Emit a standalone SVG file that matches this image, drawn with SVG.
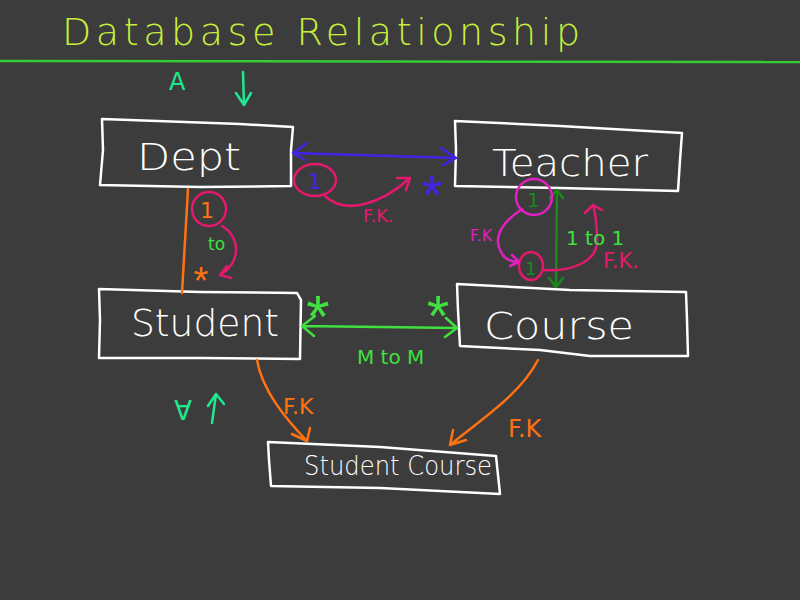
<svg xmlns="http://www.w3.org/2000/svg" width="800" height="600" viewBox="0 0 800 600">
<defs>
<style>
.bg{fill:#3c3c3c}
.box{fill:none;stroke:#ffffff;stroke-width:2.5;stroke-linejoin:round}
.lbl{fill:#ffffff;font-family:"DejaVu Sans","Liberation Sans",Arial,sans-serif;font-weight:200;font-size:38px}
.hand{font-family:"DejaVu Sans","Liberation Sans",Arial,sans-serif;font-weight:200}
.note{font-family:"DejaVu Sans","Liberation Sans",Arial,sans-serif;font-weight:400}
.star{font-family:"Liberation Sans",Arial,sans-serif;text-anchor:middle}
.ln{fill:none;stroke-width:2.5;stroke-linecap:round;stroke-linejoin:round}
</style>
</defs>
<rect class="bg" x="0" y="0" width="800" height="600"/>
<text x="62" y="45" class="hand" font-size="38" fill="#c8ee3c" textLength="518" lengthAdjust="spacing">Database Relationship</text>
<line x1="0" y1="61" x2="800" y2="62" stroke="#36cc36" stroke-width="2.5"/>
<g id="notes">
<text x="169" y="90" class="note" font-size="24" fill="#20e890">A</text>
<path class="ln" stroke="#20e890" d="M243,72 L244,105 M236,93 L244,105 L251,93"/>
<text x="183" y="420" class="note" font-size="26" fill="#20e890" text-anchor="middle" transform="rotate(180 183 410)">A</text>
<path class="ln" stroke="#20e890" d="M212,423 L216,394 M208,406 L216,394 L224,404"/>
</g>
<g id="dept">
<path class="box" d="M102,119 L240,124 L293,127 L291,150 L291,186 L200,187 L100,185 L103,150 Z"/>
<text x="137" y="170" class="lbl" textLength="104" lengthAdjust="spacingAndGlyphs">Dept</text>
</g>
<g id="teacher">
<path class="box" d="M455,121 L560,126 L682,133 L680,160 L678,191 L560,188 L455,186 L456,150 Z"/>
<text x="492" y="176" class="lbl" textLength="156" lengthAdjust="spacingAndGlyphs">Teacher</text>
</g>
<g id="student">
<path class="box" d="M99,289 L200,292 L297,293 L301,300 L300,359 L200,358 L99,358 L100,320 Z"/>
<text x="131" y="336" class="lbl" textLength="148" lengthAdjust="spacingAndGlyphs">Student</text>
</g>
<g id="course">
<path class="box" d="M457,284 L570,290 L686,292 L687,320 L688,356 L590,356 L540,350 L460,346 L458,310 Z"/>
<text x="484" y="339" class="lbl" textLength="150" lengthAdjust="spacingAndGlyphs">Course</text>
</g>
<g id="studentcourse">
<path class="box" d="M268,442 L380,447 L496,456 L498,475 L500,494 L380,488 L271,486 L269,460 Z"/>
<text x="304" y="475" class="hand" font-size="26" fill="#ffffff" textLength="188" lengthAdjust="spacingAndGlyphs">Student Course</text>
</g>
<g id="connectors">
<!-- Dept - Teacher -->
<path class="ln" stroke="#4422e6" d="M293,153 L456,158 M307,143 L293,153 L305,160 M441,148 L456,158 L443,165"/>
<ellipse cx="315" cy="180" rx="21" ry="16" fill="none" stroke="#e2196c" stroke-width="2.5"/>
<text x="308" y="189" class="note" font-size="22" font-weight="bold" fill="#4422e6">1</text>
<path class="ln" stroke="#e2196c" d="M325,196 C345,215 380,205 410,178 M397,178 L410,178 L406,190"/>
<text x="432" y="214" class="star" font-size="56" fill="#4422e6">*</text>
<text x="363" y="222" class="note" font-size="18" fill="#e2196c">F.K.</text>
<!-- Dept - Student -->
<path class="ln" stroke="#ff7212" stroke-width="3.5" d="M188,189 L182,293"/>
<circle cx="209" cy="209" r="17" fill="none" stroke="#e2196c" stroke-width="2.5"/>
<text x="200" y="218" class="note" font-size="22" font-weight="bold" fill="#ff7212">1</text>
<path class="ln" stroke="#e2196c" d="M222,226 C240,236 242,262 220,275 M227,266 L220,275 L231,278"/>
<text x="208" y="250" class="note" font-size="17" fill="#40e040">to</text>
<text x="201" y="294" class="star" font-size="38" fill="#ff7212">*</text>
<!-- Teacher - Course -->
<path class="ln" stroke="#1a8a1a" stroke-width="2" d="M557,190 L556,287 M550,198 L557,190 L563,198 M549,278 L556,287 L563,278"/>
<circle cx="534" cy="197" r="18" fill="none" stroke="#e020c0" stroke-width="2.5"/>
<text x="527" y="207" class="note" font-size="20" font-weight="bold" fill="#1a8a1a">1</text>
<ellipse cx="531" cy="266" rx="12" ry="14" fill="none" stroke="#e2196c" stroke-width="2.5"/>
<text x="525" y="275" class="note" font-size="18" font-weight="bold" fill="#1a8a1a">1</text>
<path class="ln" stroke="#e020c0" d="M522,209 C505,220 493,235 500,250 C504,260 512,262 519,262 M512,255 L519,262 L510,266"/>
<text x="470" y="241" class="note" font-size="16" fill="#e020c0">F.K</text>
<path class="ln" stroke="#e2196c" d="M544,270 C570,272 598,262 597,240 C597,225 595,212 593,205 M585,213 L593,205 L602,210"/>
<text x="566" y="245" class="note" font-size="20" font-weight="bold" fill="#40e040">1 to 1</text>
<text x="603" y="268" class="note" font-size="21" fill="#e2196c">F.K.</text>
<!-- Student - Course -->
<path class="ln" stroke="#40e040" d="M302,326 L457,328 M315,316 L302,326 L314,336 M446,318 L457,328 L445,337"/>
<text x="318" y="337" class="star" font-size="60" fill="#40e040">*</text>
<text x="438" y="336" class="star" font-size="58" fill="#40e040">*</text>
<text x="357" y="364" class="note" font-size="20" fill="#40e040">M to M</text>
<!-- to StudentCourse -->
<path class="ln" stroke="#ff7212" d="M257,360 C262,390 285,418 307,441 M292,434 L307,441 L310,428"/>
<text x="283" y="414" class="note" font-size="22" fill="#ff7212">F.K</text>
<path class="ln" stroke="#ff7212" d="M538,360 C520,395 480,420 450,445 M453,430 L450,445 L466,440"/>
<text x="508" y="437" class="note" font-size="24" fill="#ff7212">F.K</text>
</g>
</svg>
